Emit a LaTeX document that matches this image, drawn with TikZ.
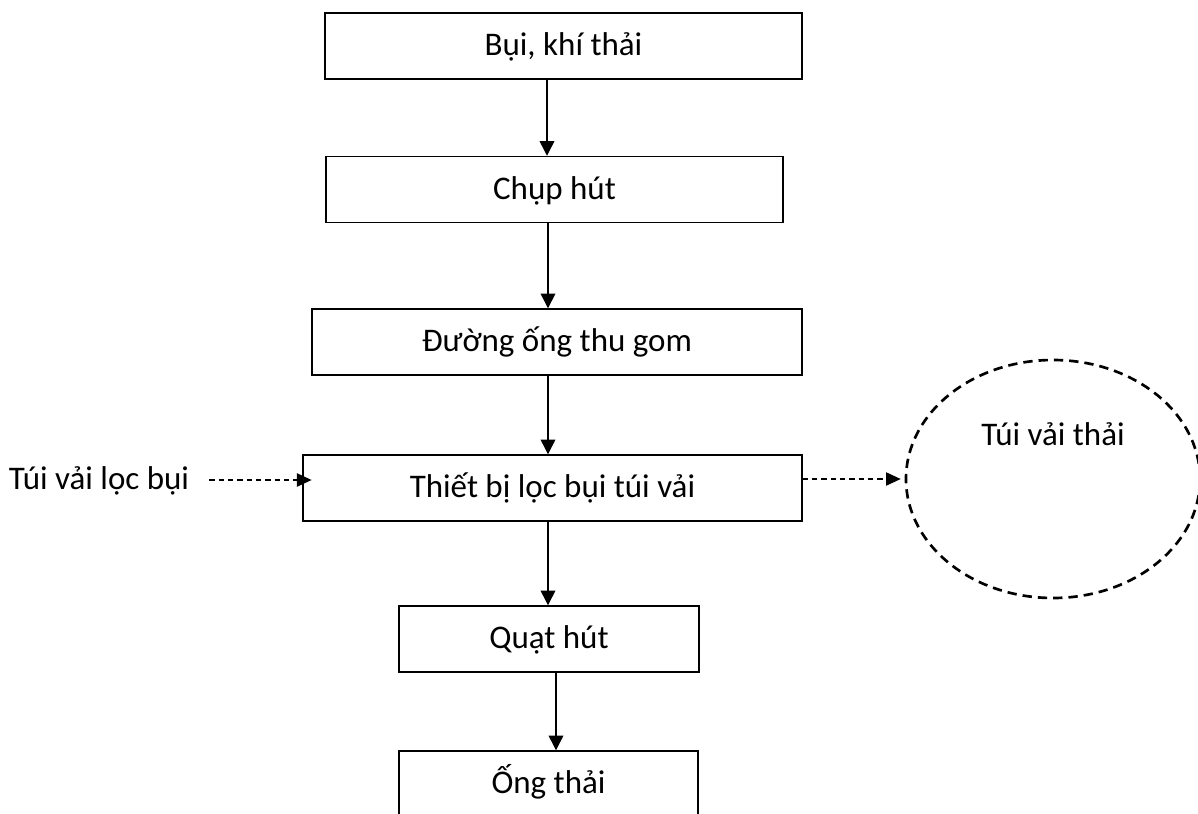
\documentclass[tikz,border=0pt]{standalone}
\usepackage{fontspec}
\setmainfont{Carlito}
\usetikzlibrary{arrows.meta,shapes.geometric}
\begin{document}
\begin{tikzpicture}[x=0.75pt,y=-0.75pt,
  every node/.style={font=\fontsize{24.75}{30}\selectfont, text height=14.85pt, text depth=0pt},
  stepbox/.style={draw, line width=1.1pt, inner sep=0pt, minimum height=66*0.75pt},
  flow/.style={line width=1.1pt, -{Triangle[length=11pt,width=11pt]}},
  side/.style={line width=0.8pt, dash pattern=on 4pt off 3pt, -{Triangle[length=11pt,width=10pt]}},
  bagshape/.style={draw, ellipse, line width=2pt, dash pattern=on 7pt off 4.5pt, inner sep=0pt,
    minimum width=294*0.75pt, minimum height=238*0.75pt}
]
\useasboundingbox (0,0) rectangle (1198,813);
\clip (0,0) rectangle (1198,813);

% main process chain
\node[stepbox, minimum width=477*0.75pt] (b1) at (563.5,46)  {Bụi, khí thải};
\node[stepbox, minimum width=457*0.75pt] (b2) at (554.5,189.5) {Chụp hút};
\node[stepbox, minimum width=490*0.75pt] (b3) at (557,342)   {Đường ống thu gom};
\node[stepbox, minimum width=499*0.75pt] (b4) at (552.5,488) {Thiết bị lọc bụi túi vải};
\node[stepbox, minimum width=300*0.75pt] (b5) at (549,639)   {Quạt hút};
\node[stepbox, minimum width=299*0.75pt] (b6) at (548.5,784) {Ống thải};

% side input and waste output
\node[inner sep=0pt] (src) at (99,480) {Túi vải lọc bụi};
\node[bagshape] (bag) at (1053,479) {};
\node (bagtxt) at (1053,436) {Túi vải thải};

% arrow columns
\coordinate (c1) at (547,0);
\coordinate (c2) at (548,0);
\coordinate (c3) at (556,0);
\coordinate (lt) at ([xshift=7pt]b4.west);

\draw[flow] (b1.south -| c1) -- (b2.north -| c1);
\draw[flow] (b2.south -| c2) -- (b3.north -| c2);
\draw[flow] (b3.south -| c2) -- (b4.north -| c2);
\draw[flow] (b4.south -| c2) -- (b5.north -| c2);
\draw[flow] (b5.south -| c3) -- (b6.north -| c3);

\draw[side] ([xshift=15pt]src.east) -- (lt |- src.east);
\draw[side] (b4.east |- bag.west) -- ([xshift=-3pt]bag.west);
\end{tikzpicture}
\end{document}
